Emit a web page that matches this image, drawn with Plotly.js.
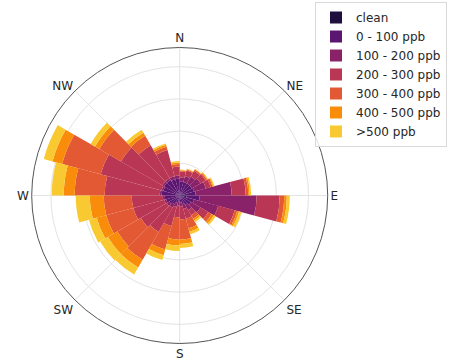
<!DOCTYPE html>
<html>
<head>
<meta charset="utf-8">
<script src="https://cdn.plot.ly/plotly-3.0.1.min.js"></script>
<style>html,body{margin:0;padding:0;background:#fff;}#chart{width:449px;height:361px;}</style>
</head>
<body>
<div id="chart"></div>
<script>
// Sector start directions (degrees clockwise from N), each 15 degrees wide
var directions = [0,15,30,45,60,75,90,105,120,135,150,165,180,195,210,225,240,255,270,285,300,315,330,345];
var binNames = ["clean", "0 - 100 ppb", "100 - 200 ppb", "200 - 300 ppb", "300 - 400 ppb", "400 - 500 ppb", ">500 ppb"];
var binColors = ["#1e0f3f", "#5a1670", "#8a2269", "#ba3655", "#e35933", "#f98c0a", "#f9c932"];
// Frequency (%) per sector for each concentration bin (stacked)
var clean    = [0.03,0.03,0.03,0.03,0.06,0.31,0.43,0.06,0.06,0.06,0.06,0.06,0.06,0.06,0.06,0.06,0.06,0.03,0.03,0.03,0.03,0.03,0.03,0.03];
var ppb0_100 = [0.84,0.84,0.84,0.84,0.87,0.68,0.81,0.87,0.75,0.62,0.50,0.37,0.31,0.43,0.56,0.68,0.81,0.90,1.09,1.02,1.09,1.09,1.02,1.02];
var ppb100_200 = [0.25,0.37,0.50,0.62,0.75,2.24,3.54,1.55,0.68,0.37,0.31,0.25,0.25,0.25,0.25,0.19,0.12,0.12,0.12,0.12,0.12,0.12,0.19,0.19];
var ppb200_300 = [0.37,0.37,0.40,0.37,0.31,0.87,1.43,1.06,0.56,0.37,0.62,0.81,0.75,1.24,1.74,1.86,1.99,1.93,3.42,3.91,2.98,2.36,1.68,0.56];
var ppb300_400 = [0.06,0.06,0.09,0.09,0.12,0.16,0.28,0.16,0.25,0.25,0.62,1.24,1.37,1.49,1.99,1.68,1.74,1.74,1.86,2.48,1.55,0.68,0.22,0.16];
var ppb400_500 = [0.03,0.03,0.03,0.05,0.06,0.09,0.16,0.12,0.16,0.12,0.22,0.28,0.37,0.37,0.56,0.68,0.62,0.87,0.68,0.62,0.31,0.22,0.12,0.09];
var ppb500 = [0.03,0.03,0.03,0.04,0.06,0.09,0.19,0.16,0.12,0.12,0.16,0.25,0.34,0.31,0.50,0.56,0.50,0.87,0.75,0.56,0.31,0.22,0.09,0.09];
var angleLabels = ["N","NE","E","SE","S","SW","W","NW"];
var angleTicks = [0,45,90,135,180,225,270,315];
var radialTicks = [2,4,6,8];

var series = [clean, ppb0_100, ppb100_200, ppb200_300, ppb300_400, ppb400_500, ppb500];
var sectorWidth = 15;
var centers = directions.map(function(d){ return d + sectorWidth/2; });

var traces = series.map(function(vals, i){
  return {
    type: "barpolar",
    r: vals,
    theta: centers,
    width: directions.map(function(){ return sectorWidth; }),
    name: binNames[i],
    marker: {color: binColors[i], line: {width: 0}},
    hoverinfo: "skip"
  };
});

var W = 449, H = 361;
var cx = 179.7, cy = 195.5, R = 148;
var layout = {
  width: W, height: H,
  margin: {l:0, r:0, t:0, b:0, autoexpand: false},
  paper_bgcolor: "#fff",
  font: {family: "DejaVu Sans, sans-serif", size: 12, color: "#262626"},
  showlegend: true,
  legend: {
    x: 1 - 2/W, y: 1 - 2/H, xanchor: "right", yanchor: "top",
    bgcolor: "rgba(255,255,255,0.8)", bordercolor: "#d9d9d9", borderwidth: 1,
    font: {family: "DejaVu Sans, sans-serif", size: 12, color: "#262626"},
    traceorder: "normal"
  },
  polar: {
    domain: {x: [(cx-R)/W, (cx+R)/W], y: [(H-cy-R)/H, (H-cy+R)/H]},
    bgcolor: "#fff",
    barmode: "stack",
    bargap: 0,
    angularaxis: {
      rotation: 90, direction: "clockwise",
      tickmode: "array", tickvals: angleTicks, ticktext: angleLabels,
      showgrid: true, gridcolor: "#e3e3e3", gridwidth: 1,
      showline: true, linecolor: "#555555", linewidth: 1,
      ticks: "",
      tickfont: {family: "DejaVu Sans, sans-serif", size: 12, color: "#262626"}
    },
    radialaxis: {
      range: [0, 9.19], tickmode: "array", tickvals: radialTicks,
      showticklabels: false, ticks: "", showline: false,
      showgrid: true, gridcolor: "#e3e3e3", gridwidth: 1
    }
  }
};

Plotly.newPlot("chart", traces, layout, {displayModeBar: false, staticPlot: true});
</script>
</body>
</html>
